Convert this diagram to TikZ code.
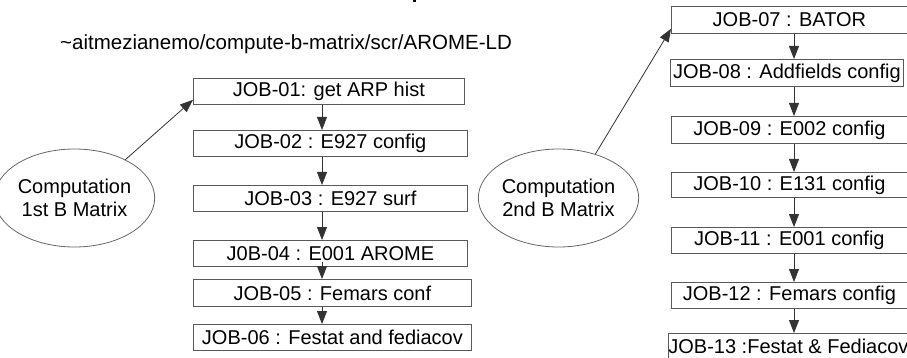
\documentclass[tikz,border=0pt]{standalone}
\usepackage{fontspec}
\setmainfont{Liberation Sans}
\usetikzlibrary{arrows.meta,shapes.geometric}
\begin{document}
\begin{tikzpicture}[x=1pt,y=-1pt,
  job/.style={draw=black!65, line width=0.8pt, anchor=north west, inner sep=0pt,
    minimum height=26pt, font=\fontsize{20}{23}\selectfont},
  oval/.style={draw=black!60, line width=0.8pt, ellipse, inner sep=0pt,
    minimum width=137pt, minimum height=98pt, align=center,
    font=\fontsize{20}{23}\selectfont},
  arr/.style={draw=black!80, line width=0.8pt, -{Triangle[length=13pt,width=10pt]}},
  lbl/.style={font=\fontsize{20.5}{24}\selectfont, inner sep=0pt}
]
\useasboundingbox (0,0) rectangle (907,358);
\fill[black] (413,0) rectangle (416,2.5);
\node[lbl, anchor=base west] (path) at (60,50) {\textasciitilde aitmezianemo/compute-b-matrix/scr/AROME-LD};
% left column
\node[job, minimum width=271pt] (j1) at (193,78) {JOB-01: get ARP hist};
\node[job, minimum width=274pt] (j2) at (193,130) {JOB-02 : E927 config};
\node[job, minimum width=274pt] (j3) at (193,185) {JOB-03 : E927 surf\hspace{28pt}};
\node[job, minimum width=274pt] (j4) at (193,240) {J0B-04 : E001 AROME};
\node[job, minimum width=278pt, minimum height=27pt] (j5) at (193,279) {JOB-05 : Femars conf};
\node[job, minimum width=278pt] (j6) at (193,324) {JOB-06 : Festat and fediacov};
\coordinate (lx) at (322,0);
\draw[arr] (j1.south -| lx) -- (j2.north -| lx);
\draw[arr] (j2.south -| lx) -- (j3.north -| lx);
\draw[arr] (j3.south -| lx) -- (j4.north -| lx);
\draw[arr] ([yshift=5pt]j4.south -| lx) -- (j5.north -| lx);
\draw[arr] (j5.south -| lx) -- (j6.north -| lx);
\node[oval] (e1) at (74.5,198) {Computation\\1st B Matrix};
\draw[arr] (e1.37) -- ([yshift=5pt]j1.south west);
% right column
\node[job, minimum width=236pt, minimum height=27pt] (j7) at (671,6) {JOB-07 : BATOR};
\node[job, minimum width=233pt, minimum height=27pt] (j8) at (670,59) {JOB-08 : Addfields config};
\node[job, minimum width=236pt, minimum height=27pt] (j9) at (671,116) {JOB-09 : E002 config};
\node[job, minimum width=236pt, minimum height=25pt] (j10) at (671,172) {JOB-10 : E131 config};
\node[job, minimum width=236pt] (j11) at (671,227) {JOB-11 : E001 config};
\node[job, minimum width=236pt] (j12) at (671,282) {JOB-12 : Femars config};
\node[job, minimum width=239pt, minimum height=26pt] (j13) at (668,333) {JOB-13 :Festat \& Fediacov};
\coordinate (rx) at (794,0);
\draw[arr] (j7.south -| rx) -- (j8.north -| rx);
\draw[arr] (j8.south -| rx) -- (j9.north -| rx);
\draw[arr] (j9.south -| rx) -- (j10.north -| rx);
\draw[arr] (j10.south -| rx) -- (j11.north -| rx);
\draw[arr] (j11.south -| rx) -- (j12.north -| rx);
\draw[arr] (j12.south -| rx) -- (j13.north -| rx);
\node[oval] (e2) at (558.5,198) {Computation\\2nd B Matrix};
\draw[arr] (e2.50) -- ([yshift=5pt]j7.south west);
\end{tikzpicture}
\end{document}
